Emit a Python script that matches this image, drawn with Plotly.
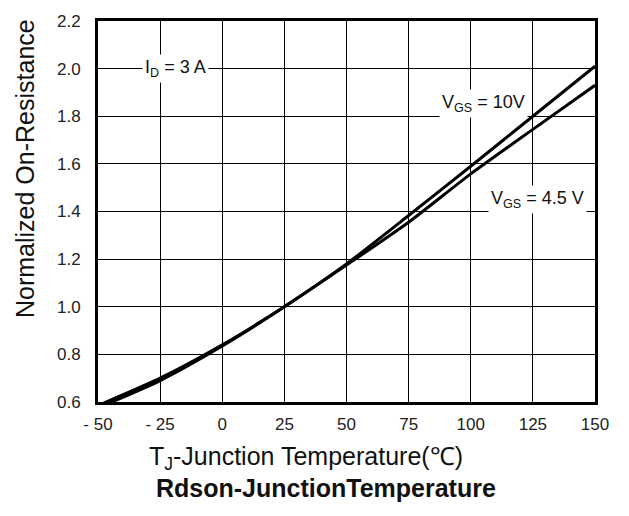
import plotly.graph_objects as go

# Junction temperature (degC) and normalized Rds(on) for each gate drive
temp_c = [-50, -25, 0, 25, 50, 75, 100, 125, 150]
rds_vgs_10v = [0.575, 0.69, 0.835, 1.0, 1.18, 1.383, 1.59, 1.80, 2.01]
rds_vgs_4v5 = [0.585, 0.70, 0.84, 1.0, 1.175, 1.355, 1.558, 1.745, 1.93]

x_tick_vals = [-50, -25, 0, 25, 50, 75, 100, 125, 150]
x_tick_text = ["- 50", "- 25", "0", "25", "50", "75", "100", "125", "150"]
y_tick_vals = [0.6, 0.8, 1.0, 1.2, 1.4, 1.6, 1.8, 2.0, 2.2]
y_tick_text = ["0.6", "0.8", "1.0", "1.2", "1.4", "1.6", "1.8", "2.0", "2.2"]

FONT = "Liberation Sans, Arial, sans-serif"

fig = go.Figure()
for ys in (rds_vgs_10v, rds_vgs_4v5):
    fig.add_trace(go.Scatter(
        x=temp_c, y=ys, mode="lines",
        line=dict(color="black", width=3, shape="spline", smoothing=0.6),
        showlegend=False, hoverinfo="skip",
    ))

fig.update_layout(
    width=629, height=516,
    margin=dict(l=98, r=34, t=16, b=114),
    paper_bgcolor="white", plot_bgcolor="white",
    font=dict(family=FONT, color="#222"),
    xaxis=dict(
        range=[-50, 150], tickvals=x_tick_vals, ticktext=x_tick_text,
        showgrid=True, gridcolor="black", gridwidth=1.3,
        showline=True, linecolor="black", linewidth=3, mirror=True,
        ticks="", ticklabelstandoff=5,
        tickfont=dict(size=17, color="#222"), zeroline=False,
    ),
    yaxis=dict(
        range=[0.6, 2.2], tickvals=y_tick_vals, ticktext=y_tick_text,
        showgrid=True, gridcolor="black", gridwidth=1.3,
        showline=True, linecolor="black", linewidth=3, mirror=True,
        ticks="", ticklabelstandoff=11,
        tickfont=dict(size=17, color="#222"), zeroline=False,
    ),
)

# Curve labels and test condition
fig.add_annotation(x=-19, y=2.0, text="I<sub>D</sub> = 3 A", showarrow=False,
                   bgcolor="white", borderpad=2,
                   font=dict(size=18, color="#111", family=FONT))
fig.add_annotation(x=105, y=1.852, text="V<sub>GS</sub> = 10V", showarrow=False,
                   bgcolor="white", borderpad=2,
                   font=dict(size=18, color="#111", family=FONT))
fig.add_annotation(x=127, y=1.45, text="V<sub>GS</sub> = 4.5 V", showarrow=False,
                   bgcolor="white", borderpad=2,
                   font=dict(size=18, color="#111", family=FONT))

# Axis titles and caption
fig.add_annotation(xref="paper", yref="paper", x=-0.147, y=0.614,
                   text="Normalized On-Resistance", textangle=-90,
                   showarrow=False, xanchor="center", yanchor="middle",
                   font=dict(size=25, color="#111", family=FONT))
fig.add_annotation(xref="paper", yref="paper", x=0.4185, y=-0.148,
                   text="T<sub>J</sub>-Junction Temperature(℃)",
                   showarrow=False, xanchor="center", yanchor="middle",
                   font=dict(size=25, color="#111", family=FONT))
fig.add_annotation(xref="paper", yref="paper", x=0.458, y=-0.2254,
                   text="<b>Rdson-JunctionTemperature</b>",
                   showarrow=False, xanchor="center", yanchor="middle",
                   font=dict(size=25, color="#111", family=FONT))

fig.write_html("out.html")
